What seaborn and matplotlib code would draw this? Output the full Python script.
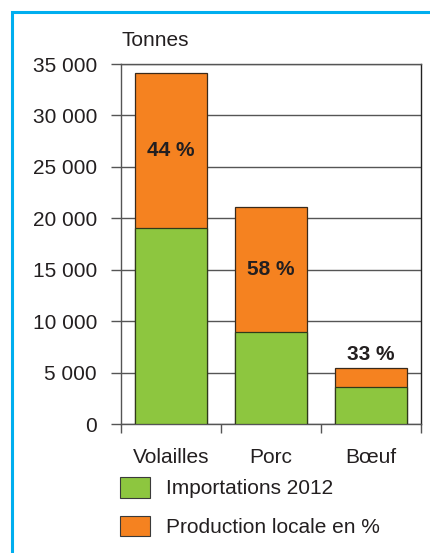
import numpy as np
import pandas as pd
import seaborn as sns
import matplotlib.pyplot as plt
from matplotlib.patches import Rectangle, Patch
from matplotlib.ticker import FuncFormatter, FixedLocator

# data (tonnes)
categories = ["Volailles", "Porc", "Bœuf"]
importations = [19100, 8900, 3600]
totals = [34100, 21100, 5400]
pct_labels = ["44 %", "58 %", "33 %"]

GREEN = "#8dc63f"
ORANGE = "#f58220"
TEXT = "#231f20"
FS = 15

sns.set_theme(style="white")
plt.rcParams["font.family"] = ["Liberation Sans", "DejaVu Sans"]
plt.rcParams["font.size"] = FS

df = pd.DataFrame({"cat": categories, "imp": importations, "tot": totals})

fig = plt.figure(figsize=(4.3, 5.53), dpi=100)
ax = fig.add_axes([121 / 430, 1 - 424 / 553, 300 / 430, 360 / 553])

sns.barplot(data=df, x="cat", y="tot", color=ORANGE, saturation=1, width=0.72,
            edgecolor="#3a2a1a", linewidth=0.9, ax=ax, zorder=3)
sns.barplot(data=df, x="cat", y="imp", color=GREEN, saturation=1, width=0.72,
            edgecolor="#2f3a1a", linewidth=0.9, ax=ax, zorder=3)

ax.set_xlim(-0.5, 2.5)
ax.set_ylim(0, 35000)
ax.set_xlabel("")
ax.set_ylabel("")

ax.yaxis.set_major_locator(FixedLocator(np.arange(0, 35001, 5000)))
ax.yaxis.set_major_formatter(FuncFormatter(lambda v, p: f"{int(v):,}".replace(",", " ")))
ax.grid(axis="y", color="#555555", linewidth=1.0, zorder=0)
ax.set_axisbelow(True)

ax.tick_params(axis="y", which="major", left=True, length=7.2, width=1.0, color="#555555",
               pad=10, labelsize=FS, labelcolor=TEXT)
ax.set_xticks(range(len(categories)))
ax.set_xticklabels(categories)
ax.tick_params(axis="x", which="major", length=0, pad=17, labelsize=FS, labelcolor=TEXT)
ax.set_xticks([-0.5, 0.5, 1.5, 2.5], minor=True)
ax.tick_params(axis="x", which="minor", bottom=True, length=6.5, width=1.0, color="#555555")

for side in ["left", "bottom", "top"]:
    ax.spines[side].set_color("#555555")
    ax.spines[side].set_linewidth(1.0)
ax.spines["right"].set_color("#222222")
ax.spines["right"].set_linewidth(1.0)

# percentage labels
for i, lab in enumerate(pct_labels):
    if totals[i] - importations[i] > 5000:
        y = (totals[i] + importations[i]) / 2
        ax.text(i, y, lab, ha="center", va="center", fontsize=FS,
                fontweight="bold", color=TEXT, zorder=5)
    else:
        ax.annotate(lab, (i, totals[i]), xytext=(0, 3), textcoords="offset points",
                    ha="center", va="bottom", fontsize=FS, fontweight="bold",
                    color=TEXT, zorder=5)

ax.annotate("Tonnes", (0, 1), xycoords="axes fraction", xytext=(0, 10),
            textcoords="offset points", ha="left", va="bottom", fontsize=FS, color=TEXT)

handles = [Patch(facecolor=GREEN, edgecolor="#3a3a3a", linewidth=0.8),
           Patch(facecolor=ORANGE, edgecolor="#3a3a3a", linewidth=0.8)]
fig.legend(handles, ["Importations 2012", "Production locale en %"],
           loc="upper left", bbox_to_anchor=(120 / 430, 1 - 477 / 553),
           frameon=False, borderpad=0, borderaxespad=0, handlelength=1.44,
           handleheight=1.15, handletextpad=0.77, labelspacing=0.83,
           fontsize=FS, labelcolor=TEXT)

# blue frame around the figure
fig.patches.append(Rectangle((12 / 430, -0.05), 1.1, 1 - 12 / 553 + 0.05,
                             transform=fig.transFigure, fill=False,
                             edgecolor="#00aeef", linewidth=2.2))

fig.savefig("out.png", dpi=100)
